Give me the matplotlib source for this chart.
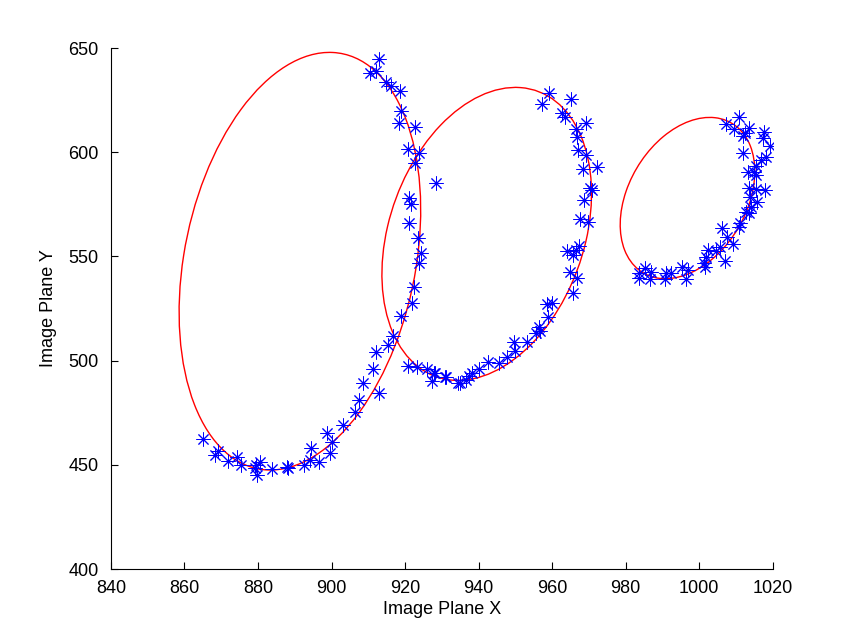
import matplotlib
matplotlib.use("Agg")
import matplotlib.pyplot as plt
import numpy as np
from matplotlib.patches import Ellipse

plt.rcParams["font.family"] = ["Liberation Sans", "DejaVu Sans"]

# fitted ellipses: centre, half extent in x, half extent in y, y-offset factor at x max
ell_cx = [891.4, 942.2, 996.8]
ell_cy = [547.7, 560.8, 578.0]
ell_rx = [32.85, 28.5, 18.3]
ell_ry = [100.2, 70.3, 38.7]
ell_tilt = [0.245, 0.275, 0.33]

# measured image points
pts_x = [
    865.1, 868.3, 869.2, 871.9, 874.2, 875.5, 879.4, 880.5, 879.8, 879.2,
    883.7, 887.8, 888.2, 892.5, 894.3, 894.1, 896.6, 899.5, 898.8, 900.0,
    903.0, 906.5, 907.4, 913.0, 908.6, 911.3, 912.2, 915.4, 916.6, 918.8,
    922.0, 922.4, 923.7, 924.2, 923.4, 920.8, 923.3, 926.0, 928.1, 927.2,
    931.1, 934.5, 912.9, 910.4, 912.2, 914.8, 916.3, 918.6, 919.0, 918.4,
    922.7, 920.8, 923.8, 922.7, 928.4, 921.1, 921.5, 921.0,
    927.8, 930.8, 934.9, 936.5, 937.4, 938.3, 940.1, 942.6, 945.5, 947.8,
    949.7, 949.9, 953.2, 955.6, 956.6, 958.5, 960.0, 959.0, 956.5,
    959.2, 957.3, 965.0, 962.8, 963.4, 969.3, 966.6, 966.8, 967.0, 969.3,
    972.2, 968.3, 970.4, 970.7, 968.6, 967.7, 969.8, 967.3, 966.6, 964.1,
    965.7, 964.8, 966.8, 965.7,
    1010.8, 1007.4, 1009.4, 1013.5, 1012.4, 1011.9, 1017.5, 1017.3, 1019.3, 1011.9,
    1018.2, 1016.9, 1015.4, 1014.8, 1013.3, 1015.5, 1013.5, 1015.5, 1017.8, 1013.9,
    1015.7, 1014.2, 1013.5, 1012.6, 1011.0, 1010.8, 1006.3, 1007.5, 1009.2, 1006.9,
    1005.6, 1004.5, 1002.4, 1001.9, 1001.2, 1001.5, 997.0, 995.4, 996.3, 992.4,
    990.9, 990.6, 987.0, 986.5, 985.2, 983.6, 983.6,
]
pts_y = [
    462.2, 454.7, 456.8, 452.0, 453.6, 449.9, 449.9, 451.5, 445.1, 448.3,
    447.8, 449.1, 448.3, 449.9, 457.9, 452.3, 451.5, 455.9, 465.1, 461.1,
    469.1, 475.5, 481.0, 484.6, 489.1, 495.8, 504.0, 507.5, 511.8, 521.4,
    527.8, 535.5, 546.7, 551.8, 558.7, 497.4, 496.8, 495.8, 494.2, 490.4,
    492.3, 489.4, 644.6, 637.9, 639.1, 633.9, 631.8, 629.5, 619.9, 614.2,
    612.0, 601.4, 599.8, 595.0, 585.4, 577.9, 575.0, 566.2,
    494.2, 492.3, 489.4, 490.7, 492.6, 494.2, 495.8, 499.2, 499.0, 501.9,
    509.1, 504.8, 509.1, 513.4, 514.4, 527.0, 527.5, 521.0, 516.0,
    628.3, 623.1, 625.3, 618.7, 617.1, 614.2, 611.0, 607.2, 601.1, 598.7,
    592.8, 591.8, 582.7, 581.9, 577.1, 567.8, 566.7, 555.0, 553.1, 552.7,
    550.7, 542.7, 539.5, 532.6,
    616.7, 613.5, 611.0, 611.4, 609.0, 607.8, 609.9, 606.6, 603.0, 599.5,
    597.6, 596.3, 593.4, 590.7, 590.7, 589.1, 582.7, 582.2, 581.9, 578.7,
    576.3, 573.9, 571.0, 571.5, 566.2, 564.3, 563.5, 559.5, 556.0, 548.0,
    554.7, 552.8, 553.1, 549.9, 547.0, 545.1, 543.5, 545.1, 539.0, 541.9,
    541.9, 539.0, 542.7, 539.0, 544.3, 541.9, 539.5,
]

fig = plt.figure(figsize=(8.53, 6.42), dpi=100)
ax = fig.add_axes([0.13, 0.1137, 0.776, 0.8115])

for cx, cy, rx, ry, c in zip(ell_cx, ell_cy, ell_rx, ell_ry, ell_tilt):
    S = np.array([[rx * rx, rx * ry * c], [rx * ry * c, ry * ry]])
    vals, vecs = np.linalg.eigh(S)
    ang = np.degrees(np.arctan2(vecs[1, 1], vecs[0, 1]))
    ax.add_patch(Ellipse((cx, cy), 2 * np.sqrt(vals[1]), 2 * np.sqrt(vals[0]),
                         angle=ang, fill=False, edgecolor="red", lw=1.0, zorder=1))

ax.plot(pts_x, pts_y, linestyle="none", marker=(8, 2, 0), markersize=10,
        markeredgewidth=0.7, color="blue", zorder=2)

ax.set_xlim(840, 1020)
ax.set_ylim(400, 650)
ax.set_xticks(np.arange(840, 1021, 20))
ax.set_yticks(np.arange(400, 651, 50))
ax.spines["top"].set_visible(False)
ax.spines["right"].set_visible(False)
ax.tick_params(direction="in", length=5, labelsize=13)
ax.tick_params(axis="x", pad=8)
ax.tick_params(axis="y", pad=9)
ax.set_xlabel("Image Plane X", fontsize=13, labelpad=3)
ax.set_ylabel("Image Plane Y", fontsize=13, labelpad=8)

fig.savefig("out.png", dpi=100)
